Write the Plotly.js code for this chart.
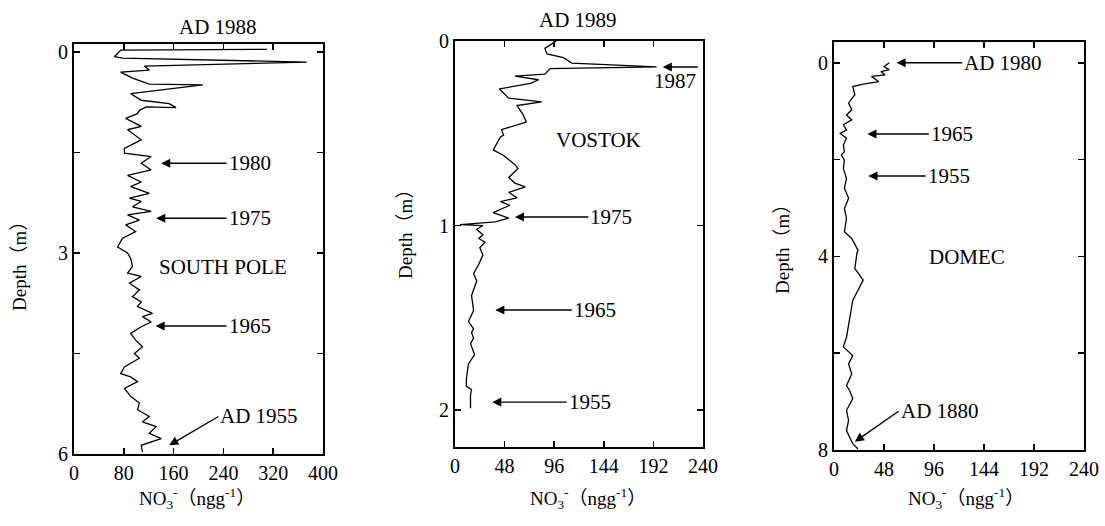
<!DOCTYPE html>
<html>
<head>
<meta charset="utf-8">
<script src="https://cdn.plot.ly/plotly-3.0.1.min.js"></script>
<style>html,body{margin:0;padding:0;background:#fff;}#chart{width:1105px;height:526px;}</style>
</head>
<body>
<div id="chart"></div>
<script>
// South Pole (AD 1988)
const sp_depth = [-0.04, -0.03, 0.07, 0.09, 0.15, 0.21, 0.27, 0.30, 0.39, 0.48, 0.49, 0.62, 0.72, 0.77, 0.83, 0.82, 0.87, 0.92, 0.99, 1.11, 1.16, 1.31, 1.44, 1.51, 1.56, 1.66, 1.76, 1.84, 1.94, 2.01, 2.11, 2.18, 2.23, 2.31, 2.38, 2.43, 2.51, 2.58, 2.68, 2.78, 2.91, 3.00, 3.08, 3.20, 3.30, 3.35, 3.45, 3.55, 3.65, 3.73, 3.80, 3.90, 3.95, 4.03, 4.10, 4.20, 4.30, 4.40, 4.50, 4.57, 4.70, 4.80, 4.85, 4.92, 5.02, 5.14, 5.24, 5.34, 5.44, 5.52, 5.59, 5.69, 5.77, 5.87, 5.97];
const sp_no3 = [310, 75, 65, 78, 374, 113, 121, 75, 94, 121, 207, 91, 108, 153, 164, 116, 105, 102, 83, 108, 86, 108, 81, 81, 124, 108, 124, 86, 108, 91, 121, 89, 108, 94, 124, 86, 105, 83, 99, 78, 70, 86, 91, 94, 86, 108, 89, 105, 94, 108, 102, 126, 110, 124, 108, 91, 99, 110, 97, 105, 81, 75, 91, 102, 81, 91, 105, 102, 121, 110, 132, 121, 140, 108, 110];
// Vostok (AD 1989)
const vo_depth = [0, 0.04, 0.07, 0.09, 0.12, 0.14, 0.15, 0.18, 0.19, 0.21, 0.23, 0.26, 0.31, 0.33, 0.35, 0.40, 0.44, 0.48, 0.51, 0.52, 0.59, 0.62, 0.67, 0.69, 0.74, 0.77, 0.79, 0.82, 0.85, 0.87, 0.89, 0.93, 0.96, 0.98, 0.995, 1.0, 1.02, 1.05, 1.07, 1.09, 1.12, 1.16, 1.21, 1.26, 1.30, 1.38, 1.46, 1.52, 1.56, 1.58, 1.61, 1.64, 1.70, 1.75, 1.83, 1.87, 1.89, 1.92, 1.99];
const vo_no3 = [98, 87, 89, 105, 113, 195, 92, 87, 58, 81, 73, 43, 52, 84, 60, 66, 69, 45, 47, 44, 37, 47, 58, 61, 52, 58, 68, 52, 60, 44, 53, 37, 52, 39, 5, 27, 21, 27, 23, 29, 24, 27, 23, 18, 21, 16, 18, 13, 18, 16, 18, 15, 19, 13, 11, 11, 16, 15, 15];
// Dome C
const dc_depth = [0.0, 0.08, 0.14, 0.18, 0.25, 0.28, 0.39, 0.44, 0.49, 0.66, 0.83, 0.97, 1.08, 1.18, 1.28, 1.39, 1.46, 1.56, 1.70, 1.84, 1.90, 2.01, 2.18, 2.39, 2.59, 2.80, 3.01, 3.22, 3.49, 3.63, 3.87, 3.94, 4.25, 4.49, 4.91, 5.25, 5.67, 5.87, 6.05, 6.22, 6.43, 6.67, 6.77, 6.94, 7.18, 7.39, 7.60, 7.87, 7.98];
const dc_no3 = [53, 48, 53, 45, 49, 36, 43, 28, 18, 20, 14, 17, 12, 17, 9, 12, 6, 12, 9, 10, 7, 10, 9, 12, 10, 14, 10, 12, 10, 17, 23, 22, 20, 28, 18, 15, 12, 9, 18, 14, 17, 12, 15, 18, 12, 14, 12, 18, 23];

const sp_xticks = [0, 80, 160, 240, 320, 400];
const sp_yticks = [0, 3, 6];
const sp_yminor = [1.5, 4.5];
const vo_xticks = [0, 48, 96, 144, 192, 240];
const vo_yticks = [0, 1, 2];
const dc_xticks = [0, 48, 96, 144, 192, 240];
const dc_yticks = [0, 4, 8];
const dc_yminor = [2, 6];

const FONT = '"Liberation Serif", "DejaVu Serif", "Noto Sans CJK SC", serif';
const W = 1105, H = 526;
const px = v => v / W;
const py = v => 1 - v / H;

const lineStyle = {color: '#000', width: 1.3};
const traces = [
  {x: sp_no3, y: sp_depth, xaxis: 'x', yaxis: 'y', mode: 'lines', line: lineStyle, hoverinfo: 'skip'},
  {x: vo_no3, y: vo_depth, xaxis: 'x2', yaxis: 'y2', mode: 'lines', line: lineStyle, hoverinfo: 'skip'},
  {x: dc_no3, y: dc_depth, xaxis: 'x3', yaxis: 'y3', mode: 'lines', line: lineStyle, hoverinfo: 'skip'}
];

function ax(extra) {
  return Object.assign({
    showline: true, linecolor: '#000', linewidth: 2, mirror: 'ticks',
    ticks: 'inside', ticklen: 6, tickwidth: 1.5, tickcolor: '#000',
    showgrid: false, zeroline: false, fixedrange: true,
    tickfont: {family: FONT, size: 20, color: '#000'}, tickmode: 'array'
  }, extra);
}
function minorTicks(vals) {
  return {tickmode: 'array', tickvals: vals, ticks: 'inside', ticklen: 6, tickwidth: 1.5, tickcolor: '#000', showgrid: false};
}

const txtFont = {family: FONT, size: 21, color: '#000'};
const axFont = {family: FONT, size: 19, color: '#000'};
function label(xr, yr, x, y, text, anchor) {
  return {xref: xr, yref: yr, x: x, y: y, text: text, showarrow: false, font: txtFont,
          xanchor: anchor || 'center', yanchor: 'middle'};
}
function ptext(x, y, text, font, angle) {
  return {xref: 'paper', yref: 'paper', x: px(x), y: py(y), text: text, showarrow: false,
          font: font, xanchor: 'center', yanchor: 'middle', textangle: angle || 0};
}
// labelled arrow: text box placed at the tail (tx, ty); arrow runs from the box to the tip (x, y)
function arrow(xr, yr, x, y, tx, ty, text, xa, ya) {
  return {xref: xr, yref: yr, axref: xr, ayref: yr, x: x, y: y, ax: tx, ay: ty, text: text,
          xanchor: xa || 'left', yanchor: ya || 'middle', font: txtFont,
          showarrow: true, arrowhead: 2, arrowsize: 1.3, arrowwidth: 1.4, arrowcolor: '#000', standoff: 0, startstandoff: 0};
}

const NO3 = 'NO<sub>3</sub><sup>-</sup>（ngg<sup>-1</sup>）';
const annotations = [
  ptext(218, 27, 'AD 1988', txtFont),
  ptext(578, 20, 'AD 1989', txtFont),
  ptext(20, 262, 'Depth（m）', axFont, -90),
  ptext(405, 230, 'Depth（m）', axFont, -90),
  ptext(782, 245, 'Depth（m）', axFont, -90),
  ptext(197, 498, NO3, axFont),
  ptext(588, 498, NO3, axFont),
  ptext(966, 498, NO3, axFont),
  // South Pole
  arrow('x', 'y', 140, 1.66, 245, 1.66, '1980'),
  arrow('x', 'y', 132, 2.48, 245, 2.48, '1975'),
  arrow('x', 'y', 131, 4.09, 245, 4.09, '1965'),
  arrow('x', 'y', 153, 5.87, 232, 5.44, 'AD 1955'),
  label('x', 'y', 240, 3.21, 'SOUTH POLE'),
  // Vostok
  arrow('x2', 'y2', 201, 0.141, 235, 0.141, '1987', 'right', 'top'),
  arrow('x2', 'y2', 58, 0.954, 129, 0.954, '1975'),
  arrow('x2', 'y2', 39, 1.458, 113, 1.458, '1965'),
  arrow('x2', 'y2', 36, 1.957, 108, 1.957, '1955'),
  label('x2', 'y2', 139, 0.537, 'VOSTOK'),
  // Dome C
  arrow('x3', 'y3', 60, 0.0, 123, 0.0, 'AD 1980'),
  arrow('x3', 'y3', 32, 1.47, 91, 1.47, '1965'),
  arrow('x3', 'y3', 33, 2.34, 88, 2.34, '1955'),
  label('x3', 'y3', 128, 4.01, 'DOMEC'),
  arrow('x3', 'y3', 20, 7.83, 62, 7.2, 'AD 1880')
];

const layout = {
  width: W, height: H, margin: {l: 0, r: 0, t: 0, b: 0},
  paper_bgcolor: '#fff', plot_bgcolor: '#fff', showlegend: false,
  font: {family: FONT, color: '#000'},
  xaxis: ax({domain: [px(74), px(323)], range: [0, 400], tickvals: sp_xticks, anchor: 'y'}),
  yaxis: ax({domain: [py(454), py(44)], range: [6, -0.12], tickvals: sp_yticks, minor: minorTicks(sp_yminor), anchor: 'x'}),
  xaxis2: ax({domain: [px(455), px(703)], range: [0, 240], tickvals: vo_xticks, anchor: 'y2'}),
  yaxis2: ax({domain: [py(447), py(41)], range: [2.2, 0], tickvals: vo_yticks, anchor: 'x2'}),
  xaxis3: ax({domain: [px(834), px(1084)], range: [0, 240], tickvals: dc_xticks, anchor: 'y3'}),
  yaxis3: ax({domain: [py(450), py(42)], range: [8, -0.43], tickvals: dc_yticks, minor: minorTicks(dc_yminor), anchor: 'x3'}),
  annotations: annotations
};

Plotly.newPlot('chart', traces, layout, {staticPlot: true, displayModeBar: false});
</script>
</body>
</html>
